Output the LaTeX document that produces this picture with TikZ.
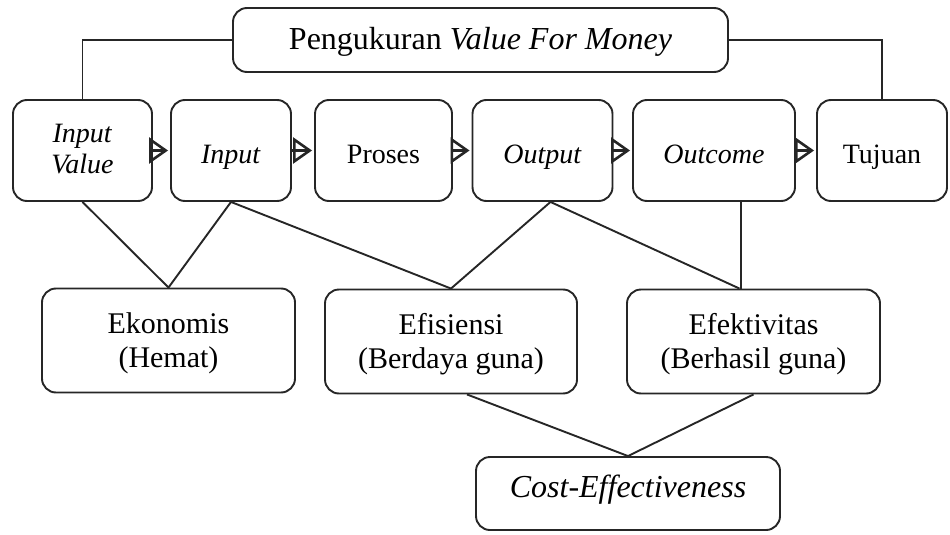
\documentclass[tikz,border=0pt]{standalone}
\usepackage{fontspec}
\setmainfont{Liberation Serif}
\usetikzlibrary{arrows.meta,calc}
\begin{document}
\begin{tikzpicture}[x=1pt,y=-1pt,
  box/.style={draw=black!85, line width=1.9pt, rounded corners=14pt, align=center, inner sep=0pt},
  rowbox/.style={box, minimum height=101pt, font=\fontsize{28}{31}\selectfont, text height=26pt, text depth=0pt},
  lowbox/.style={box, minimum width=253pt, minimum height=104pt, font=\fontsize{30}{34}\selectfont, text height=54pt, text depth=0pt},
  link/.style={draw=black!85, line width=1.9pt},
  flow/.style={draw=black!85, line width=2.2pt, shorten >=2pt, -{Triangle[open,length=19pt,width=26pt,line width=2.6pt]}},
  flowcore/.style={draw=black!85, line width=2.2pt, shorten >=6pt}
]
\useasboundingbox (0,0) rectangle (950,535);
% title
\node[box, minimum width=495pt, minimum height=64pt, font=\fontsize{32}{35}\selectfont, text height=20pt, text depth=0pt] (t) at (480.5,40) {Pengukuran \textit{Value For Money}};
% row
\node[rowbox, minimum width=139pt, text height=45pt] (b1) at (82.5,150.5) {\textit{Input}\\\textit{Value}};
\node[rowbox, minimum width=120pt] (b2) at (231,150.5) {\textit{Input}};
\node[rowbox, minimum width=137pt] (b3) at (383.5,150.5) {Proses};
\node[rowbox, minimum width=140pt] (b4) at (542.5,150.5) {\textit{Output}};
\node[rowbox, minimum width=162pt] (b5) at (714,150.5) {\textit{Outcome}};
\node[rowbox, minimum width=130pt] (b6) at (882,150.5) {Tujuan};
% lower
\node[lowbox] (ek) at (168.5,340.5) {Ekonomis\\(Hemat)};
\node[lowbox, minimum width=252pt] (ef) at (451,341.5) {Efisiensi\\(Berdaya guna)};
\node[lowbox] (efk) at (753.5,341.5) {Efektivitas\\(Berhasil guna)};
\node[box, minimum width=304pt, minimum height=73pt, font=\fontsize{32}{36}\selectfont, text height=14pt, text depth=6pt] (ce) at (628,493.5) {\textit{Cost-Effectiveness}};
% title connectors
\draw[link] (t.west) -| (b1.north);
\draw[link] (t.east) -| (b6.north);
% flow arrows
\foreach \a/\b in {b1/b2,b2/b3,b3/b4,b4/b5,b5/b6}{
  \draw[flow] (\a.east) -- (\b.west);
  \draw[flowcore] (\a.east) -- (\b.west);
}
% lower connectors
\coordinate (b4s) at ($(b4.south)+(8,0)$);
\coordinate (b5s) at ($(b5.south)+(27,0)$);
\coordinate (efkn) at ($(efk.north)+(-14,0)$);
\coordinate (efs) at ($(ef.south)+(16,0)$);
\draw[link] (b1.south) -- (ek.north) -- (b2.south);
\draw[link] (b2.south) -- (ef.north) -- (b4s);
\draw[link] (b4s) -- (efkn);
\draw[link] (b5s) -- (b5s |- efk.north);
\draw[link] (efs) -- (ce.north) -- (efk.south);
\end{tikzpicture}
\end{document}
